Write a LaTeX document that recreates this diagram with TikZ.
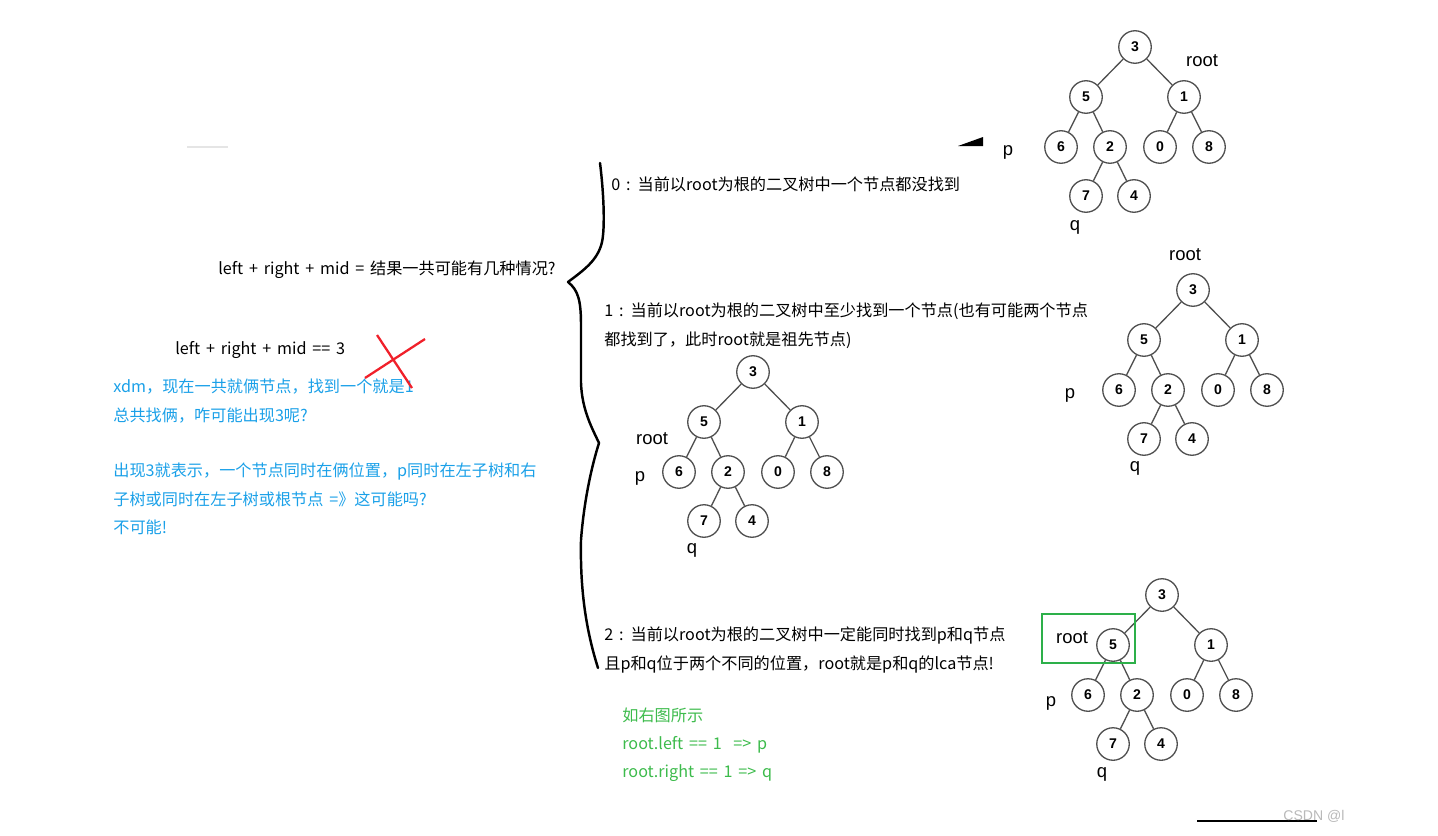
\documentclass[tikz,border=0pt]{standalone}
\usepackage{fontspec}
\setmainfont{Noto Sans CJK SC}[WordSpace=1.6]
\setsansfont{Liberation Sans}
\usepackage{xcolor}
\definecolor{noteblue}{HTML}{1AA0E8}
\definecolor{hintgreen}{HTML}{3DBB4C}
\definecolor{boxgreen}{HTML}{2DB04A}
\definecolor{treegray}{HTML}{505050}
\definecolor{crossred}{HTML}{F0202A}

% one binary tree 3-(5,1)-(6,2,0,8)-(7,4), root at (#2,#3)
\newcommand{\lcatree}[3]{%
  \begin{scope}[shift={(#2,#3)}]
    \node[treenode] (#1-3) at (0,0) {3};
    \node[treenode] (#1-5) at (-49,50) {5};
    \node[treenode] (#1-1) at (49,50) {1};
    \node[treenode] (#1-6) at (-74,100) {6};
    \node[treenode] (#1-2) at (-25,100) {2};
    \node[treenode] (#1-0) at (25,100) {0};
    \node[treenode] (#1-8) at (74,100) {8};
    \node[treenode] (#1-7) at (-49,149) {7};
    \node[treenode] (#1-4) at (-1,149) {4};
  \end{scope}
  \draw[treeedge] (#1-3) -- (#1-5);
  \draw[treeedge] (#1-3) -- (#1-1);
  \draw[treeedge] (#1-5) -- (#1-6);
  \draw[treeedge] (#1-5) -- (#1-2);
  \draw[treeedge] (#1-1) -- (#1-0);
  \draw[treeedge] (#1-1) -- (#1-8);
  \draw[treeedge] (#1-2) -- (#1-7);
  \draw[treeedge] (#1-2) -- (#1-4);
}

\begin{document}
\begin{tikzpicture}[
  x=0.2mm, y=-0.2mm,
  treenode/.style={circle, draw=treegray, line width=0.75pt, minimum size=6.5mm, inner sep=0pt, font=\sffamily\bfseries\fontsize{8}{9}\selectfont},
  treeedge/.style={treegray, line width=0.75pt},
  lbl/.style={inner sep=0pt, font=\sffamily\fontsize{10.5}{12}\selectfont},
  txt/.style={anchor=west, inner sep=0pt, text height=2.5mm, text depth=0.7mm, font=\fontsize{9.2}{10.5}\selectfont},
  note/.style={txt, text=noteblue},
  hint/.style={txt, text=hintgreen},
  brace/.style={line width=1.4pt, line cap=round, line join=round}
]
  \useasboundingbox (0,0) rectangle (1438,835);

  % left side
  \node[txt] (sumq) at (218,270) {left + right + mid = 结果一共可能有几种情况?};
  \node[txt] (sum3) at (175,350) {left + right + mid == 3};
  \node[note] (blue1) at (113,388) {xdm，现在一共就俩节点，找到一个就是1};
  \node[note] (blue2) at (113,417) {总共找俩，咋可能出现3呢?};
  \node[note] (blue3) at (113,472) {出现3就表示，一个节点同时在俩位置，p同时在左子树和右};
  \node[note] (blue4) at (113,501) {子树或同时在左子树或根节点 =》这可能吗?};
  \node[note] (blue5) at (113,529) {不可能!};
  \draw[crossred, line width=1.3pt] (377,335) -- (412,388);
  \draw[crossred, line width=1.3pt] (365,378) -- (425,339);
  \draw[gray!20, line width=0.8pt] (187,147) -- (228,147);

  % the brace
  \draw[brace] (600,163) .. controls (604,195) and (605,228) .. (602,242)
    .. controls (598,260) and (584,270) .. (568,282)
    .. controls (578,290) and (581,300) .. (581,325) -- (581,383)
    .. controls (582,410) and (592,428) .. (599,443)
    .. controls (592,465) and (584,500) .. (581,540)
    .. controls (580,590) and (586,630) .. (598,668);

  % cases
  \node[txt] (case0) at (611,186) {0 : 当前以root为根的二叉树中一个节点都没找到};
  \node[txt] (case1a) at (604,312) {1 : 当前以root为根的二叉树中至少找到一个节点(也有可能两个节点};
  \node[txt] (case1b) at (604,341) {都找到了，此时root就是祖先节点)};
  \node[txt] (case2a) at (604,636) {2 : 当前以root为根的二叉树中一定能同时找到p和q节点};
  \node[txt] (case2b) at (604,665) {且p和q位于两个不同的位置，root就是p和q的lca节点!};
  \node[hint] (green1) at (622,717) {如右图所示};
  \node[hint] (green2) at (622,745) {root.left == 1 \ => p};
  \node[hint] (green3) at (622,773) {root.right == 1 => q};

  % trees
  \lcatree{ta}{1135}{47}
  \node[lbl] (rootA) at (1202,61) {root};
  \node[lbl] (pA) at (1008,152) {p};
  \node[lbl] (qA) at (1075,227) {q};
  \fill (958,146) -- (983,137) -- (983,146) -- cycle;

  \lcatree{tb}{753}{372}
  \node[lbl] (rootB) at (652,439) {root};
  \node[lbl] (pB) at (640,478) {p};
  \node[lbl] (qB) at (692,550) {q};

  \lcatree{tc}{1193}{290}
  \node[lbl] (rootC) at (1185,255) {root};
  \node[lbl] (pC) at (1070,395) {p};
  \node[lbl] (qC) at (1135,468) {q};

  \lcatree{td}{1162}{595}
  \node[lbl] (rootD) at (1072,638) {root};
  \node[lbl] (pD) at (1051,703) {p};
  \node[lbl] (qD) at (1102,774) {q};
  \draw[boxgreen, line width=1.6pt] (1042,614) rectangle (1135,663);

  % footer
  \draw[line width=1.2pt] (1197,821) -- (1317,821);
  \node[anchor=west, inner sep=0pt, text=gray!55, font=\sffamily\fontsize{8}{9}\selectfont] (mark) at (1283,816) {CSDN @l};
\end{tikzpicture}
\end{document}
